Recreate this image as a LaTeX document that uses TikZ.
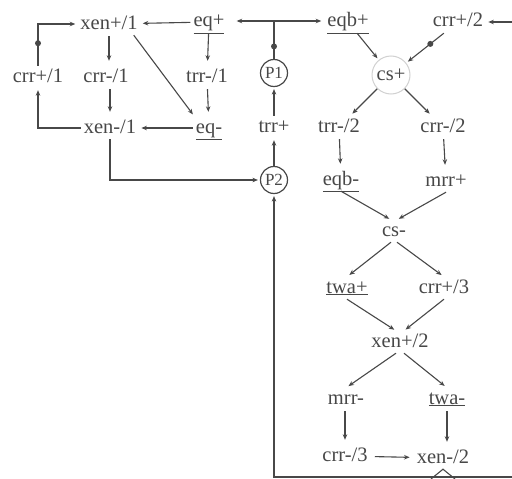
\documentclass[tikz,border=0pt]{standalone}
\usepackage{fontspec}
\setmainfont{Liberation Serif}
\usetikzlibrary{arrows.meta,calc}
\definecolor{ink}{HTML}{484848}
\begin{document}
\begin{tikzpicture}[x=1pt,y=-1pt,
  lbl/.style={text=ink,font=\fontsize{20.5}{24}\selectfont,inner sep=3pt,text height=13pt,text depth=3pt},
  pnode/.style={circle,draw=ink,line width=1.2pt,text=ink,font=\fontsize{17}{20}\selectfont,minimum size=27pt,inner sep=0pt},
  csnode/.style={circle,draw=black!18,line width=1pt,text=ink,font=\fontsize{20.5}{24}\selectfont,minimum size=38pt,inner sep=0pt},
  arr/.style={draw=ink,line width=1.1pt,-{Stealth[length=5.5pt,width=4.5pt]},shorten >=2pt},
  varr/.style={arr,shorten >=5pt,shorten <=1pt},
  darr/.style={arr,shorten >=3pt},
  ln/.style={draw=ink,line width=1.1pt},
  dot/.style={circle,fill=ink,inner sep=0pt,minimum size=6pt}]

\useasboundingbox[fill=white] (0,0) rectangle (512,479);

% left block
\node[lbl] (xen1p) at (109,24) {xen+/1};
\node[lbl] (eqp)   at (209,22) {\underline{eq+}};
\node[lbl] (crr1p) at (38,77)  {crr+/1};
\node[lbl] (crr1m) at (106,77) {crr-/1};
\node[lbl] (trr1m) at (207,77) {trr-/1};
\node[lbl] (xen1m) at (110,128) {xen-/1};
\node[lbl] (eqm)   at (209,128) {\underline{eq-}};

% pumps
\node[pnode] (P1) at (274,73) {P1};
\node[lbl] (trrp) at (274,127) {trr+};
\node[pnode] (P2) at (274,180) {P2};
\coordinate (T) at (274,21);

% right block
\node[lbl] (eqbp)  at (348,22) {\underline{eqb+}};
\node[lbl] (crr2p) at (458,22) {crr+/2};
\node[csnode] (csp) at (391,75) {cs+};
\node[lbl] (trr2m) at (339,127) {trr-/2};
\node[lbl] (crr2m) at (443,127) {crr-/2};
\node[lbl] (eqbm)  at (341,180) {\underline{eqb-}};
\node[lbl] (mrrp)  at (446,181) {mrr+};
\node[lbl] (csm)   at (394,231) {cs-};
\node[lbl] (twap)  at (347,288) {\underline{twa+}};
\node[lbl] (crr3p) at (444,288) {crr+/3};
\node[lbl] (xen2p) at (400,342) {xen+/2};
\node[lbl] (mrrm)  at (346,399) {mrr-};
\node[lbl] (twam)  at (447,399) {\underline{twa-}};
\node[lbl] (crr3m) at (345,456) {crr-/3};
\node[lbl] (xen2m) at (443,458) {xen-/2};

\coordinate (R2) at (512,22);
\coordinate (B)  at (274,477);
\coordinate (BR) at (512,477);
\coordinate (WL) at (431,479);
\coordinate (WR) at (455,479);

% left block edges
\draw[arr] (eqp) -- (xen1p);
\draw[varr] (eqp) -- (trr1m);
\draw[varr] (trr1m) -- (eqm);
\draw[darr] ([xshift=-7pt]xen1p.south east) -- ([xshift=2pt]eqm.north west);
\draw[varr] (xen1p.south) -- (xen1p.south |- crr1m.north);
\draw[varr] (crr1m.south -| xen1m) -- (xen1m.north);
\draw[arr] (eqm) -- (xen1m);
\draw[arr] (xen1m.west) -| (crr1p.south);
\draw[arr] (crr1p.north) |- node[dot,pos=.27] (dA) {} (xen1p.west);
\draw[arr] (xen1m.south) |- (P2.west);

% pump edges
\draw[arr] (P2) -- (trrp);
\draw[arr] (trrp) -- (P1);
\draw[ln] (P1) -- node[dot,pos=.33] (dB) {} (T);
\draw[arr,shorten >=9pt] (T) -- (T -| eqp.east);
\draw[arr,shorten >=3pt] (T) -- (T -| eqbp.west);
\draw[arr] (BR) -- (B) -- (P2);

% right block edges
\draw[arr] (R2) -- (crr2p);
\draw[arr] (eqbp) -- (csp);
\draw[arr] (crr2p) -- node[dot,pos=.36] (dC) {} (csp);
\draw[darr] (csp) -- (trr2m);
\draw[darr] (csp) -- (crr2m);
\draw[varr] (trr2m) -- (eqbm);
\draw[varr] (crr2m) -- (mrrp);
\draw[arr] (eqbm.south) -- ([xshift=-3pt]csm.north);
\draw[arr] (mrrp.south) -- ([xshift=3pt]csm.north);
\draw[darr] ([xshift=-3pt]csm.south) -- (twap.north);
\draw[darr] ([xshift=3pt]csm.south) -- (crr3p.north);
\draw[arr] (twap.south) -- ([xshift=-4pt]xen2p.north);
\draw[arr] (crr3p.south) -- ([xshift=4pt]xen2p.north);
\draw[darr] ([xshift=-4pt]xen2p.south) -- (mrrm.north);
\draw[darr] ([xshift=4pt]xen2p.south) -- (twam.north);
\draw[varr] (mrrm.south -| crr3m) -- (crr3m.north);
\draw[varr] (twam) -- (twam |- xen2m.north);
\draw[arr,shorten <=4pt,shorten >=4pt] (crr3m) -- (xen2m);
\draw[ln] (WL) -- (xen2m.south) -- (WR);
\end{tikzpicture}
\end{document}
